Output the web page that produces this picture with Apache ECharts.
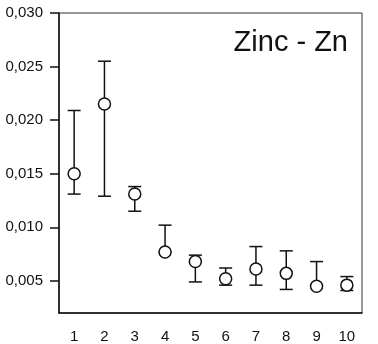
<!DOCTYPE html>
<html>
<head>
<meta charset="utf-8">
<script src="https://cdn.jsdelivr.net/npm/echarts@6/dist/echarts.min.js"></script>
<style>
  html, body { margin: 0; padding: 0; background: #fff; }
  #chart { width: 378px; height: 344px; }
</style>
</head>
<body>
<div id="chart"></div>
<script>
// sample numbers on x, mean with upper / lower error bar ends
var categories = ['1', '2', '3', '4', '5', '6', '7', '8', '9', '10'];
var means = [0.0150, 0.0215, 0.0131, 0.0077, 0.0068, 0.0052, 0.0061, 0.0057, 0.0045, 0.0046];
var upper = [0.0209, 0.0255, 0.0138, 0.0102, 0.0074, 0.0062, 0.0082, 0.0078, 0.0068, 0.0054];
var lower = [0.0131, 0.0129, 0.0115, 0.0077, 0.0049, 0.0046, 0.0046, 0.0042, 0.0045, 0.0041];
var yTicks = [0.005, 0.010, 0.015, 0.020, 0.025, 0.030];

var chart = echarts.init(document.getElementById('chart'));

var errData = [];
for (var i = 0; i < categories.length; i++) {
    errData.push([i, lower[i], upper[i]]);
}

var fmt = function (v) {
    return v.toFixed(3).replace('.', ',');
};

var option = {
    animation: false,
    textStyle: { fontFamily: 'Liberation Sans, Arial, sans-serif' },
    title: {
        text: 'Zinc - Zn',
        right: 25,
        top: 23,
        textStyle: { fontSize: 29, fontWeight: 'normal', color: '#111' }
    },
    grid: {
        left: 59,
        right: 16,
        top: 13,
        bottom: 29,
        show: true,
        borderColor: '#333',
        borderWidth: 1
    },
    xAxis: {
        type: 'category',
        data: categories,
        boundaryGap: true,
        axisLine: { lineStyle: { color: '#111', width: 1.5 } },
        axisTick: { alignWithLabel: true, length: 7, lineStyle: { color: '#111', width: 1.5 } },
        axisLabel: { color: '#111', fontSize: 15, margin: 16 },
        splitLine: { show: false }
    },
    yAxis: {
        type: 'value',
        min: 0.002,
        max: 0.030,
        axisLine: { show: true, lineStyle: { color: '#111', width: 1.5 } },
        axisTick: { show: true, length: 9, customValues: yTicks, lineStyle: { color: '#111', width: 1.5 } },
        axisLabel: { color: '#111', fontSize: 15, margin: 16, customValues: yTicks, formatter: fmt },
        splitLine: { show: false }
    },
    series: [{
        type: 'custom',
        z: 2,
        data: errData,
        renderItem: function (params, api) {
            var x = api.value(0);
            var lo = api.coord([x, api.value(1)]);
            var hi = api.coord([x, api.value(2)]);
            var hw = 6.5;
            var style = { stroke: '#111', lineWidth: 1.5, fill: null };
            return {
                type: 'group',
                children: [
                    { type: 'line', shape: { x1: hi[0], y1: hi[1], x2: lo[0], y2: lo[1] }, style: style },
                    { type: 'line', shape: { x1: hi[0] - hw, y1: hi[1], x2: hi[0] + hw, y2: hi[1] }, style: style },
                    { type: 'line', shape: { x1: lo[0] - hw, y1: lo[1], x2: lo[0] + hw, y2: lo[1] }, style: style }
                ]
            };
        }
    }, {
        type: 'scatter',
        z: 5,
        data: means,
        symbol: 'circle',
        symbolSize: 12,
        itemStyle: { color: '#fff', borderColor: '#111', borderWidth: 1.5, opacity: 1 }
    }]
};

chart.setOption(option);
</script>
</body>
</html>
